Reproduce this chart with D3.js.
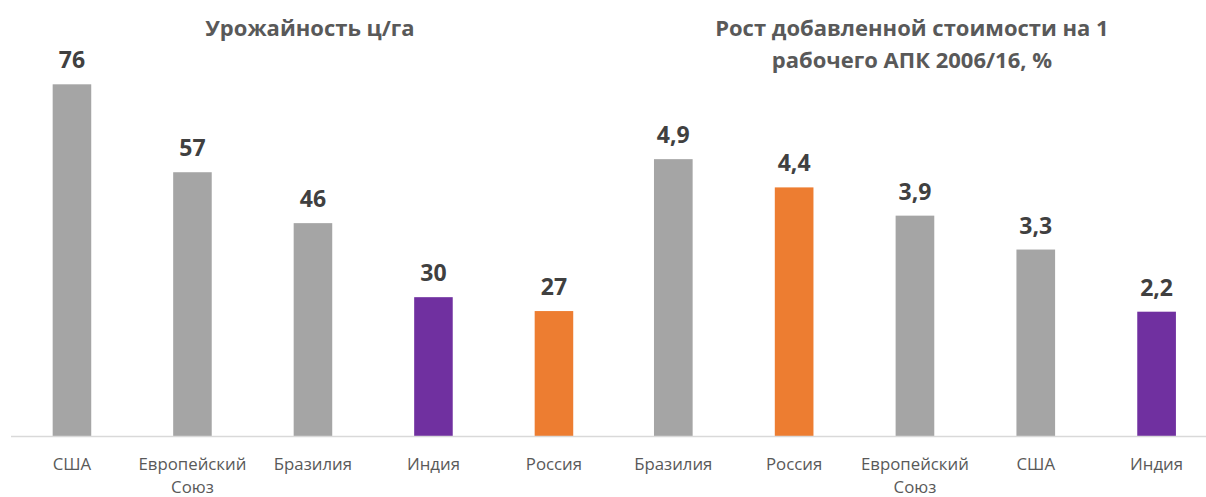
<!DOCTYPE html>
<html>
<head>
<meta charset="utf-8">
<script src="https://cdn.jsdelivr.net/npm/d3@7"></script>
<style>
  body { margin: 0; background: #fff; }
  text { font-family: "Open Sans", "DejaVu Sans", sans-serif; }
</style>
</head>
<body>
<div id="chart"></div>
<script>
// left chart: yield
var yieldCountries = ["США", "Европейский Союз", "Бразилия", "Индия", "Россия"];
var yieldValues = [76, 57, 46, 30, 27];
// right chart: growth of value added per worker
var growthCountries = ["Бразилия", "Россия", "Европейский Союз", "США", "Индия"];
var growthValues = [4.9, 4.4, 3.9, 3.3, 2.2];

var titleLeft = ["Урожайность ц/га"];
var titleRight = ["Рост добавленной стоимости на 1", "рабочего АПК 2006/16, %"];

var width = 1206, height = 497;
var baseY = 436;

var colorOf = function (c) {
    if (c == "Россия") return "#ed7d31";
    if (c == "Индия") return "#7030a0";
    return "#a5a5a5";
};

var svg = d3.select("#chart")
    .append("svg")
    .attr("width", width)
    .attr("height", height);

function drawPanel(cats, vals, x0, x1, yMax, yTop, title, fmt) {
    var xscale = d3.scaleBand()
        .domain(cats)
        .range([x0, x1])
        .paddingInner(0.68)
        .paddingOuter(0.34);
    var yscale = d3.scaleLinear()
        .domain([0, yMax])
        .range([baseY, yTop]);

    var g = svg.append("g");

    // bars
    g.selectAll("rect")
        .data(cats)
        .enter()
        .append("rect")
        .attr("x", function (d) { return xscale(d); })
        .attr("y", function (d, i) { return yscale(vals[i]); })
        .attr("width", xscale.bandwidth())
        .attr("height", function (d, i) { return baseY - yscale(vals[i]); })
        .attr("fill", colorOf);

    // value labels
    g.selectAll(".val")
        .data(cats)
        .enter()
        .append("text")
        .attr("class", "val")
        .attr("x", function (d) { return xscale(d) + xscale.bandwidth() / 2; })
        .attr("y", function (d, i) { return yscale(vals[i]) - 16; })
        .attr("text-anchor", "middle")
        .attr("font-size", 23)
        .attr("font-weight", "bold")
        .attr("fill", "#404040")
        .text(function (d, i) { return fmt(vals[i]); });

    // category axis, labels wrapped on spaces
    var xaxis = d3.axisBottom(xscale).tickSize(0).tickPadding(0);
    var ax = g.append("g")
        .attr("transform", "translate(0," + baseY + ")")
        .call(xaxis);
    ax.select(".domain").remove();
    ax.selectAll(".tick text").each(function (d) {
        var t = d3.select(this);
        var words = d.split(" ");
        t.text(null)
            .attr("y", 0)
            .attr("font-size", 16.8)
            .attr("font-family", "Open Sans")
            .attr("fill", "#595959");
        words.forEach(function (w, k) {
            t.append("tspan")
                .attr("x", 0)
                .attr("y", 34 + k * 22.5)
                .text(w);
        });
    });
    ax.selectAll(".tick text").attr("dy", null);

    // title
    var cx = (x0 + x1) / 2 - 3;
    title.forEach(function (line, k) {
        svg.append("text")
            .attr("x", cx)
            .attr("y", 36 + k * 32)
            .attr("text-anchor", "middle")
            .attr("font-size", 22)
            .attr("font-weight", "bold")
            .attr("fill", "#595959")
            .text(line);
    });
}

var fmtInt = function (v) { return String(v); };
var fmtDec = function (v) { return d3.format(".1f")(v).replace(".", ","); };

drawPanel(yieldCountries, yieldValues, 11.7, 614.2, 80, 65.8, titleLeft, fmtInt);
drawPanel(growthCountries, growthValues, 612.9, 1217, 6, 97, titleRight, fmtDec);

// shared baseline
svg.append("line")
    .attr("x1", 11)
    .attr("x2", 1206)
    .attr("y1", baseY + 0.5)
    .attr("y2", baseY + 0.5)
    .attr("stroke", "#d9d9d9")
    .attr("stroke-width", 1.5);
</script>
</body>
</html>
